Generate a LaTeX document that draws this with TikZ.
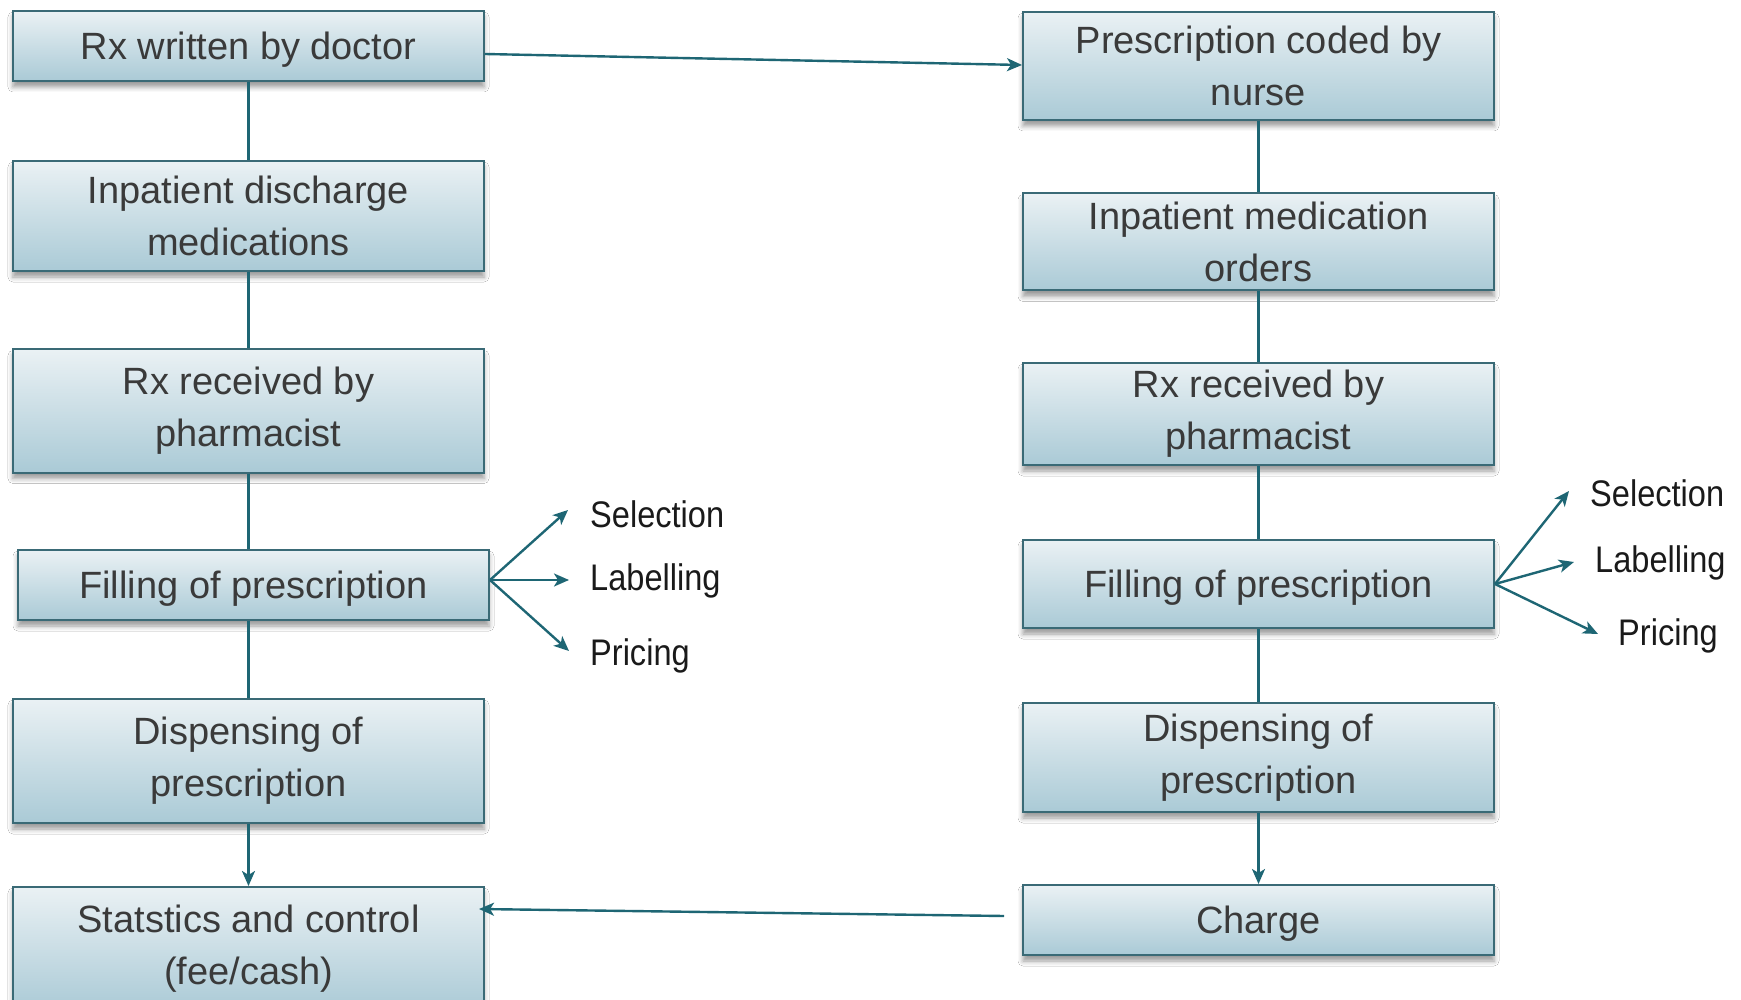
\documentclass[tikz,border=0pt]{standalone}
\usepackage{fontspec}
\setmainfont{Liberation Sans}
\newfontfamily\lblfont{Liberation Sans}[FakeStretch=0.88]
\usetikzlibrary{arrows.meta,shadows.blur}
\definecolor{edgec}{RGB}{58,106,118}
\definecolor{conn}{RGB}{30,102,116}
\definecolor{topc}{RGB}{234,241,244}
\definecolor{botc}{RGB}{170,202,214}
\definecolor{boxtext}{RGB}{58,58,58}
\definecolor{lbltext}{RGB}{26,26,26}
\begin{document}
\begin{tikzpicture}[x=1pt,y=-1pt,
  flowbox/.style={draw=edgec, line width=2pt, top color=topc, bottom color=botc,
    minimum width=471pt, inner sep=0pt, align=center, text=boxtext,
    font=\fontsize{38}{52}\selectfont,
    blur shadow={shadow xshift=0pt, shadow yshift=-6pt, shadow blur radius=5pt, shadow opacity=40}},
  oneline/.style={text depth=0pt},
  lbl/.style={anchor=west, inner sep=0pt, text=lbltext, font=\lblfont\fontsize{37}{44}\selectfont},
  link/.style={draw=conn, line width=2.4pt},
  arr/.style={link, -{Stealth[length=15pt,width=13pt,inset=4pt]}}
]
\useasboundingbox (0,0) rectangle (1741,1000);
\clip (0,0) rectangle (1741,1000);
\fill[white] (0,0) rectangle (1741,1000);

% left column
\node[flowbox, oneline, minimum height=70pt]  (L1) at (248.5,46)  {Rx written by doctor};
\node[flowbox, minimum height=110pt] (L2) at (248.5,216) {Inpatient discharge\\medications};
\node[flowbox, minimum height=123pt] (L3) at (248.5,411) {Rx received by\\pharmacist};
\node[flowbox, oneline, minimum height=70pt]  (L4) at (253.5,585) {Filling of prescription};
\node[flowbox, minimum height=124pt] (L5) at (248.5,761) {Dispensing of\\prescription};
\node[flowbox, minimum height=124pt] (L6) at (248.5,949) {Statstics and control\\(fee/cash)};

% right column
\node[flowbox, minimum height=108pt] (R1) at (1258.5,66)  {Prescription coded by\\nurse};
\node[flowbox, minimum height=97pt]  (R2) at (1258.5,242) {Inpatient medication\\orders};
\node[flowbox, minimum height=102pt] (R3) at (1258.5,414) {Rx received by\\pharmacist};
\node[flowbox, oneline, minimum height=88pt]  (R4) at (1258.5,584) {Filling of prescription};
\node[flowbox, minimum height=109pt] (R5) at (1258.5,757.5) {Dispensing of\\prescription};
\node[flowbox, oneline, minimum height=70pt]  (R6) at (1258.5,920) {Charge};

% side labels
\node[lbl] (LS) at (590,514) {Selection};
\node[lbl] (LL) at (590,581) {Labelling};
\node[lbl] (LP) at (590,656) {Pricing};
\node[lbl] (RS) at (1590,493) {Selection};
\node[lbl] (RL) at (1595,563) {Labelling};
\node[lbl] (RP) at (1618,636) {Pricing};

\coordinate (tLS) at (568,510);
\coordinate (tLL) at (569,580);
\coordinate (tLP) at (569,651);
\coordinate (tRS) at (1569,491);
\coordinate (tRL) at (1574,562);
\coordinate (tRP) at (1598,634);

% vertical connectors
\draw[link] (L1.south) -- (L2.north);
\draw[link] (L2.south) -- (L3.north);
\draw[link] (L3.south) -- (L3.south |- L4.north);
\draw[link] (L3.south |- L4.south) -- (L5.north);
\draw[arr] (L5.south) -- (L6.north);

\draw[link] (R1.south) -- (R2.north);
\draw[link] (R2.south) -- (R3.north);
\draw[link] (R3.south) -- (R4.north);
\draw[link] (R4.south) -- (R5.north);
\draw[arr] (R5.south) -- (R6.north);

% cross connectors
\draw[arr] ([yshift=-8pt]L1.east) -- ([yshift=1pt]R1.west);
\draw[arr] ([xshift=-18pt,yshift=4pt]R6.west) -- ([xshift=-6pt,yshift=40pt]L6.east);

% fans
\draw[arr] ([yshift=5pt]L4.east) -- (tLS);
\draw[arr] ([yshift=5pt]L4.east) -- (tLL);
\draw[arr] ([yshift=5pt]L4.east) -- (tLP);
\draw[arr] (R4.east) -- (tRS);
\draw[arr] (R4.east) -- (tRL);
\draw[arr] (R4.east) -- (tRP);
\end{tikzpicture}
\end{document}
